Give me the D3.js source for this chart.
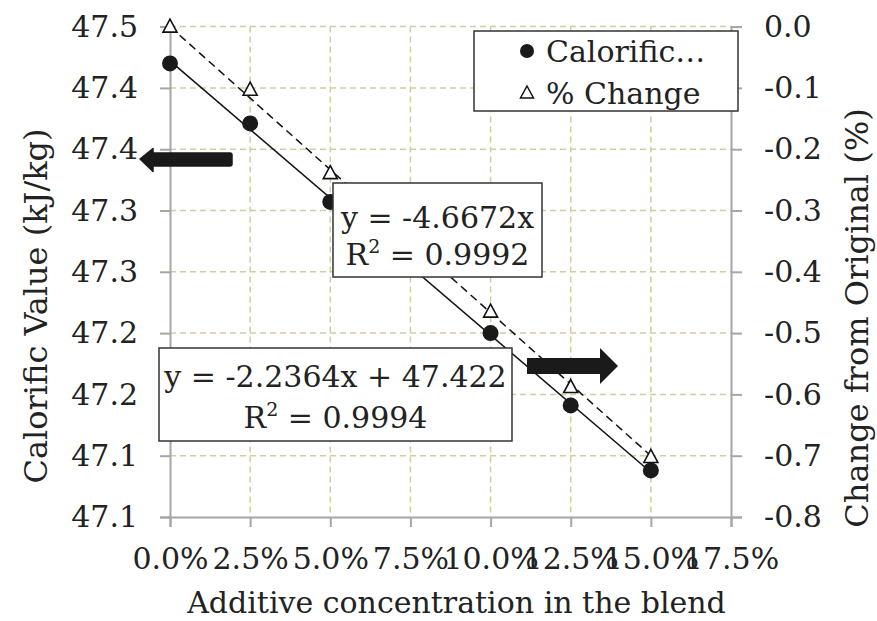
<!DOCTYPE html>
<html>
<head>
<meta charset="utf-8">
<script src="https://d3js.org/d3.v7.min.js"></script>
<style>
  body { margin: 0; background: #fff; }
  text { font-family: "DejaVu Serif", serif; fill: #222; }
</style>
</head>
<body>
<svg id="chart" width="877" height="621"></svg>
<script>
// data
var concentration = [0, 0.025, 0.05, 0.075, 0.10, 0.125, 0.15];
var calorific = [47.420, 47.371, 47.307, 47.254, 47.200, 47.141, 47.088];
var pctChange = [0.0, -0.103, -0.239, -0.35, -0.465, -0.588, -0.702];

var xTicks = [0, 0.025, 0.05, 0.075, 0.10, 0.125, 0.15, 0.175];
var leftTicks = [47.45, 47.40, 47.35, 47.30, 47.25, 47.20, 47.15, 47.10, 47.05];
var leftTickLabels = ["47.5", "47.4", "47.4", "47.3", "47.3", "47.2", "47.2", "47.1", "47.1"];
var rightTicks = [0, -0.1, -0.2, -0.3, -0.4, -0.5, -0.6, -0.7, -0.8];

// trendline coefficients as printed on the chart
var fitCal = { slope: -2.2364, intercept: 47.422, r2: "0.9994" };
var fitPct = { slope: -4.6672, intercept: 0, r2: "0.9992" };

var svg = d3.select("#chart");
var pLeft = 170, pRight = 731, pTop = 26.6, pBottom = 517;

var x = d3.scaleLinear().domain([0, 0.175]).range([pLeft, pRight]);
var yL = d3.scaleLinear().domain([47.05, 47.45]).range([pBottom, pTop]);
var yR = d3.scaleLinear().domain([-0.8, 0]).range([pBottom, pTop]);

var grid = svg.append("g");
// horizontal gridlines
grid.selectAll(".hg")
    .data(leftTicks.filter(function (d) { return d > 47.06; }))
    .enter().append("line")
    .attr("x1", pLeft).attr("x2", pRight)
    .attr("y1", function (d) { return yL(d); })
    .attr("y2", function (d) { return yL(d); })
    .attr("stroke", "#d3cba3").attr("stroke-width", 1.5)
    .attr("stroke-dasharray", "6,4");
// vertical gridlines
grid.selectAll(".vg")
    .data(xTicks.filter(function (d) { return d > 0 && d < 0.17; }))
    .enter().append("line")
    .attr("x1", function (d) { return x(d); })
    .attr("x2", function (d) { return x(d); })
    .attr("y1", pTop).attr("y2", pBottom)
    .attr("stroke", "#d3cba3").attr("stroke-width", 1.5)
    .attr("stroke-dasharray", "6,4");

function styleAxis(g) {
    g.selectAll("path").attr("stroke", "#a6a6a6").attr("stroke-width", 2);
    g.selectAll("line").attr("stroke", "#a6a6a6").attr("stroke-width", 2);
    g.selectAll("text").attr("fill", "#222").style("font-size", "30px")
        .style("font-family", "DejaVu Serif, serif");
}

svg.append("g")
    .attr("transform", "translate(" + pLeft + ",0)")
    .call(d3.axisLeft(yL).tickValues(leftTicks).tickSizeOuter(0).tickSize(10).tickPadding(22)
        .tickFormat(function (d, i) { return leftTickLabels[i]; }))
    .call(styleAxis);

svg.append("g")
    .attr("transform", "translate(" + pRight + ",0)")
    .call(d3.axisRight(yR).tickValues(rightTicks).tickSizeOuter(0).tickSize(11).tickPadding(22)
        .tickFormat(function (d) { return (d === 0 ? 0 : d).toFixed(1); }))
    .call(styleAxis);

svg.append("g")
    .attr("transform", "translate(0," + pBottom + ")")
    .call(d3.axisBottom(x).tickValues(xTicks).tickSizeOuter(0).tickSize(10).tickPadding(21)
        .tickFormat(function (d) { return (d * 100).toFixed(1) + "%"; }))
    .call(styleAxis);

// axis titles
svg.append("text")
    .attr("transform", "translate(47,306) rotate(-90)")
    .attr("text-anchor", "middle")
    .style("font-size", "32px")
    .text("Calorific Value (kJ/kg)");

svg.append("text")
    .attr("transform", "translate(868,318) rotate(-90)")
    .attr("text-anchor", "middle")
    .style("font-size", "32px")
    .text("Change from Original (%)");

svg.append("text")
    .attr("x", (pLeft + pRight) / 2 + 6).attr("y", 613)
    .attr("text-anchor", "middle")
    .style("font-size", "30px")
    .text("Additive concentration in the blend");

// trendlines
var xEnds = [concentration[0], concentration[concentration.length - 1]];
svg.append("line")
    .attr("x1", x(xEnds[0])).attr("x2", x(xEnds[1]))
    .attr("y1", yL(fitCal.intercept + fitCal.slope * xEnds[0]))
    .attr("y2", yL(fitCal.intercept + fitCal.slope * xEnds[1]))
    .attr("stroke", "#111").attr("stroke-width", 1.5);
svg.append("line")
    .attr("x1", x(xEnds[0])).attr("x2", x(xEnds[1]))
    .attr("y1", yR(fitPct.intercept + fitPct.slope * xEnds[0]))
    .attr("y2", yR(fitPct.intercept + fitPct.slope * xEnds[1]))
    .attr("stroke", "#111").attr("stroke-width", 1.5)
    .attr("stroke-dasharray", "8,5");

// markers
var triangle = "M0,-7.5 L7,5.5 L-7,5.5 Z";
svg.selectAll(".tri")
    .data(pctChange)
    .enter().append("path")
    .attr("d", triangle)
    .attr("transform", function (d, i) { return "translate(" + x(concentration[i]) + "," + yR(d) + ")"; })
    .attr("fill", "#fff").attr("stroke", "#111").attr("stroke-width", 1.6);

svg.selectAll(".dot")
    .data(calorific)
    .enter().append("circle")
    .attr("cx", function (d, i) { return x(concentration[i]); })
    .attr("cy", function (d) { return yL(d); })
    .attr("r", 8)
    .attr("fill", "#1a1a1a");

// arrows
svg.append("path")
    .attr("d", "M140,159 L153,148.5 L153,153 L230,153 Q232,153 232,155 L232,164 Q232,166 230,166 L153,166 L153,171.5 Z")
    .attr("fill", "#1a1a1a").attr("stroke", "#1a1a1a").attr("stroke-width", 1.5).attr("stroke-linejoin", "round");
svg.append("path")
    .attr("d", "M527,358 L600,358 L600,348 L618,366 L600,384 L600,374 L527,374 Z")
    .attr("fill", "#1a1a1a");

// equation boxes
function eqBox(x0, y0, w, h, line1, r2, b1, b2) {
    var g = svg.append("g");
    g.append("rect").attr("x", x0).attr("y", y0).attr("width", w).attr("height", h)
        .attr("fill", "#fff").attr("stroke", "#333").attr("stroke-width", 1.5);
    g.append("text").attr("x", x0 + w / 2).attr("y", b1).attr("text-anchor", "middle")
        .style("font-size", "30px").text(line1);
    var t = g.append("text").attr("x", x0 + w / 2).attr("y", b2).attr("text-anchor", "middle")
        .style("font-size", "30px");
    t.append("tspan").text("R");
    t.append("tspan").attr("dy", -12).style("font-size", "19px").text("2");
    t.append("tspan").attr("dy", 12).text(" = " + r2);
}
eqBox(333, 183, 209, 94, "y = " + fitPct.slope + "x", fitPct.r2, 228, 265);
eqBox(159, 348, 353, 93, "y = " + fitCal.slope + "x + " + fitCal.intercept, fitCal.r2, 387, 428);

// legend
var lg = svg.append("g");
lg.append("rect").attr("x", 474).attr("y", 31).attr("width", 264).attr("height", 80)
    .attr("fill", "#fff").attr("stroke", "#333").attr("stroke-width", 1.5);
lg.append("circle").attr("cx", 527).attr("cy", 51).attr("r", 7).attr("fill", "#1a1a1a");
lg.append("path").attr("d", "M0,-7 L6.5,5 L-6.5,5 Z")
    .attr("transform", "translate(527,93)")
    .attr("fill", "#fff").attr("stroke", "#111").attr("stroke-width", 1.5);
lg.append("text").attr("x", 546).attr("y", 62).style("font-size", "30px").text("Calorific…");
lg.append("text").attr("x", 546).attr("y", 104).style("font-size", "30px").text("% Change");
</script>
</body>
</html>
